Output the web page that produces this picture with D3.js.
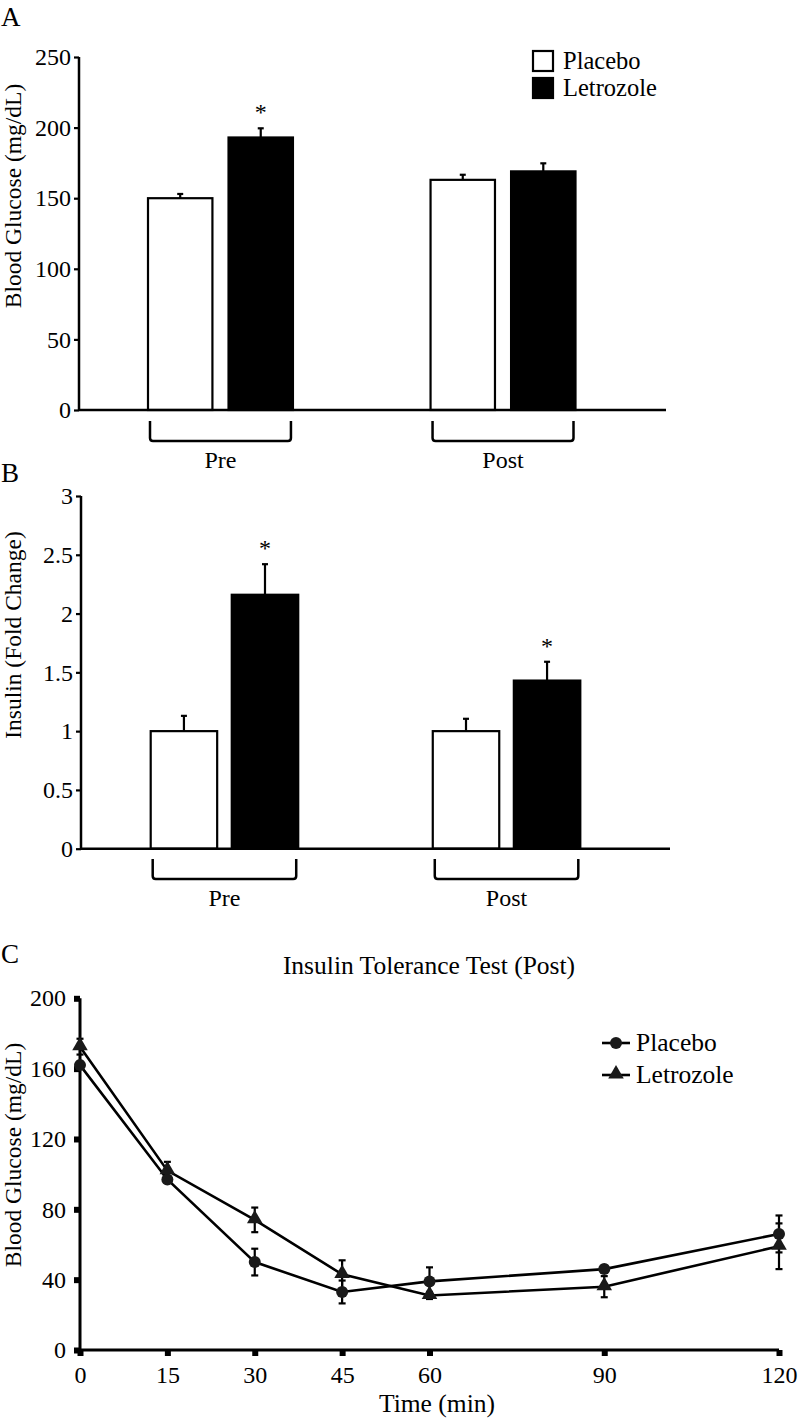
<!DOCTYPE html>
<html>
<head>
<meta charset="utf-8">
<script src="https://cdn.jsdelivr.net/npm/d3@7"></script>
<style>
  html, body { margin: 0; padding: 0; background: #fff; }
  svg { display: block; }
  text { font-family: "Liberation Serif", "Times New Roman", serif; fill: #000; }
</style>
</head>
<body>
<svg id="chart" width="800" height="1418"></svg>
<script>
// ---------- DATA ----------
const groups = ["Pre", "Post"];
const seriesNames = ["Placebo", "Letrozole"];

// Panel A: Blood glucose (mg/dL)
const glucosePlacebo = [150, 163];
const glucosePlaceboErr = [3, 3.6];
const glucoseLetrozole = [193, 169];
const glucoseLetrozoleErr = [6.5, 5.7];
const glucoseSigLetrozole = [true, false];
const glucoseTicks = [0, 50, 100, 150, 200, 250];

// Panel B: Insulin (fold change)
const insulinPlacebo = [1.0, 1.0];
const insulinPlaceboErr = [0.13, 0.105];
const insulinLetrozole = [2.16, 1.43];
const insulinLetrozoleErr = [0.26, 0.16];
const insulinSigLetrozole = [true, true];
const insulinTicks = [0, 0.5, 1, 1.5, 2, 2.5, 3];

// Panel C: Insulin tolerance test (Post)
const ittTimes = [0, 15, 30, 45, 60, 90, 120];
const ittPlacebo = [162, 97, 50, 33, 39, 46, 66];
const ittPlaceboErr = [2, 2, 7.6, 6.5, 8, 2, 10.5];
const ittLetrozole = [172.5, 102, 74, 43, 31, 36, 59];
const ittLetrozoleErr = [4.5, 5, 7, 8, 2, 6, 13];
const ittYTicks = [0, 40, 80, 120, 160, 200];

// ---------- DRAW ----------
const svg = d3.select("#chart");
const FONT = 24;
const BIG = 25.5;

function barPanel(cfg) {
  const g = svg.append("g");
  const y = d3.scaleLinear().domain(cfg.yDomain).range([cfg.y0, cfg.y1]);
  const x0 = d3.scaleBand().domain(groups).range(cfg.groupRange).paddingInner(cfg.groupPad).paddingOuter(0);
  const x1 = d3.scaleBand().domain(seriesNames).range([0, x0.bandwidth()]).paddingInner(cfg.barPad);

  const rows = [];
  groups.forEach((grp, i) => {
    rows.push({grp, s: "Placebo", v: cfg.placebo[i], e: cfg.placeboErr[i], sig: false});
    rows.push({grp, s: "Letrozole", v: cfg.letrozole[i], e: cfg.letrozoleErr[i], sig: cfg.sig[i]});
  });

  // error bars (upward only)
  rows.forEach(d => {
    const cx = x0(d.grp) + x1(d.s) + x1.bandwidth() / 2;
    g.append("line").attr("x1", cx).attr("x2", cx)
      .attr("y1", y(d.v)).attr("y2", y(d.v + d.e))
      .attr("stroke", "#000").attr("stroke-width", 2.2);
    g.append("line").attr("x1", cx - 3).attr("x2", cx + 3)
      .attr("y1", y(d.v + d.e)).attr("y2", y(d.v + d.e))
      .attr("stroke", "#000").attr("stroke-width", 2.2);
    if (d.sig) {
      g.append("text").attr("x", cx).attr("y", y(d.v + d.e) - 8)
        .attr("text-anchor", "middle").attr("font-size", FONT).text("*");
    }
  });

  // bars
  g.selectAll("rect.bar").data(rows).enter().append("rect")
    .attr("class", "bar")
    .attr("x", d => x0(d.grp) + x1(d.s))
    .attr("width", x1.bandwidth())
    .attr("y", d => y(d.v))
    .attr("height", d => y(0) - y(d.v))
    .attr("fill", d => d.s === "Placebo" ? "#fff" : "#000")
    .attr("stroke", "#000").attr("stroke-width", 2.2);

  // y axis
  const yAxis = d3.axisLeft(y).tickValues(cfg.ticks).tickSize(5).tickPadding(3)
    .tickFormat(d3.format(cfg.fmt));
  const ya = g.append("g").attr("transform", `translate(${cfg.axisX},0)`).call(yAxis);
  ya.select(".domain").remove();
  ya.selectAll(".tick line").attr("stroke", "#000").attr("stroke-width", 2.2);
  ya.selectAll(".tick text").attr("font-size", FONT).attr("font-family", '"Liberation Serif", serif');
  g.append("line").attr("x1", cfg.axisX).attr("x2", cfg.axisX)
    .attr("y1", y(cfg.yDomain[0]) + 1).attr("y2", y(cfg.yDomain[1]))
    .attr("stroke", "#000").attr("stroke-width", 2.5);
  // x axis baseline
  g.append("line").attr("x1", cfg.axisX).attr("x2", cfg.axisEnd)
    .attr("y1", y(0)).attr("y2", y(0))
    .attr("stroke", "#000").attr("stroke-width", 2.5);

  // brackets + group labels
  groups.forEach(grp => {
    const xl = x0(grp) + 2, xr = x0(grp) + x0.bandwidth() - 2;
    const t = cfg.bracketTop, b = cfg.bracketTop + 20, r = 3;
    g.append("path")
      .attr("d", `M${xl},${t} L${xl},${b - r} Q${xl},${b} ${xl + r},${b} L${xr - r},${b} Q${xr},${b} ${xr},${b - r} L${xr},${t}`)
      .attr("fill", "none").attr("stroke", "#000").attr("stroke-width", 2.5);
    g.append("text").attr("x", (xl + xr) / 2).attr("y", cfg.labelY)
      .attr("text-anchor", "middle").attr("font-size", FONT).text(grp);
  });

  // y title
  g.append("text")
    .attr("transform", `translate(${cfg.titleX},${cfg.titleY}) rotate(-90)`)
    .attr("text-anchor", "middle").attr("font-size", 23.5).text(cfg.title);
  return {x0, x1, y};
}

// Panel A
barPanel({
  yDomain: [0, 250], y0: 410, y1: 57, ticks: glucoseTicks, fmt: "d",
  groupRange: [148, 575.5], groupPad: 0.487, barPad: 0.2,
  placebo: glucosePlacebo, placeboErr: glucosePlaceboErr,
  letrozole: glucoseLetrozole, letrozoleErr: glucoseLetrozoleErr, sig: glucoseSigLetrozole,
  axisX: 79, axisEnd: 666, bracketTop: 421, labelY: 468,
  title: "Blood Glucose (mg/dL)", titleX: 21, titleY: 196
});

// Panel B
barPanel({
  yDomain: [0, 3], y0: 848.7, y1: 496, ticks: insulinTicks, fmt: "",
  groupRange: [150.7, 580.3], groupPad: 0.477, barPad: 0.18,
  placebo: insulinPlacebo, placeboErr: insulinPlaceboErr,
  letrozole: insulinLetrozole, letrozoleErr: insulinLetrozoleErr, sig: insulinSigLetrozole,
  axisX: 81, axisEnd: 670, bracketTop: 859, labelY: 906,
  title: "Insulin (Fold Change)", titleX: 21, titleY: 635
});

// Panel letters
svg.append("text").attr("x", 1).attr("y", 26).attr("font-size", 27).text("A");
svg.append("text").attr("x", 1).attr("y", 482).attr("font-size", 27).text("B");
svg.append("text").attr("x", 1).attr("y", 963).attr("font-size", 27).text("C");

// Legend A
seriesNames.forEach((s, i) => {
  const yy = 51 + i * 27;
  svg.append("rect").attr("x", 533).attr("y", yy).attr("width", 20).attr("height", 20)
    .attr("fill", s === "Placebo" ? "#fff" : "#000").attr("stroke", "#000").attr("stroke-width", 2.2);
  svg.append("text").attr("x", 563).attr("y", yy + 17.5).attr("font-size", 24.5).text(s);
});

// ---------- Panel C ----------
const gc = svg.append("g");
const xc = d3.scaleLinear().domain([0, 120]).range([80, 779]);
const yc = d3.scaleLinear().domain([0, 200]).range([1350, 998.3]);

const xAxisC = d3.axisBottom(xc).tickValues(ittTimes).tickSize(6).tickPadding(10);
const xac = gc.append("g").attr("transform", "translate(0,1350)").call(xAxisC);
xac.select(".domain").remove();
xac.selectAll(".tick line").attr("stroke", "#000").attr("stroke-width", 6);
xac.selectAll(".tick text").attr("font-size", FONT).attr("font-family", '"Liberation Serif", serif');

const yAxisC = d3.axisLeft(yc).tickValues(ittYTicks).tickSize(6).tickPadding(8);
const yac = gc.append("g").attr("transform", "translate(80,0)").call(yAxisC);
yac.select(".domain").remove();
yac.selectAll(".tick line").attr("stroke", "#000").attr("stroke-width", 6);
yac.selectAll(".tick text").attr("font-size", FONT).attr("font-family", '"Liberation Serif", serif');

gc.append("line").attr("x1", 80).attr("x2", 80).attr("y1", 1351.5).attr("y2", yc(200))
  .attr("stroke", "#000").attr("stroke-width", 3);
gc.append("line").attr("x1", 78.5).attr("x2", 779).attr("y1", 1350).attr("y2", 1350)
  .attr("stroke", "#000").attr("stroke-width", 3);

const lineGen = d3.line().x(d => xc(d.t)).y(d => yc(d.v));
const placeboPts = ittTimes.map((t, i) => ({t, v: ittPlacebo[i], e: ittPlaceboErr[i]}));
const letroPts = ittTimes.map((t, i) => ({t, v: ittLetrozole[i], e: ittLetrozoleErr[i]}));

[placeboPts, letroPts].forEach(pts => {
  gc.append("path").datum(pts).attr("d", lineGen)
    .attr("fill", "none").attr("stroke", "#000").attr("stroke-width", 2.6);
});
[placeboPts, letroPts].forEach(pts => {
  pts.forEach(d => {
    const cx = xc(d.t);
    gc.append("line").attr("x1", cx).attr("x2", cx).attr("y1", yc(d.v - d.e)).attr("y2", yc(d.v + d.e))
      .attr("stroke", "#000").attr("stroke-width", 2.2);
    [d.v - d.e, d.v + d.e].forEach(v => {
      gc.append("line").attr("x1", cx - 3.5).attr("x2", cx + 3.5).attr("y1", yc(v)).attr("y2", yc(v))
        .attr("stroke", "#000").attr("stroke-width", 2.2);
    });
  });
});
const triPath = d3.symbol().type(d3.symbolTriangle).size(105);
gc.selectAll("circle.pl").data(placeboPts).enter().append("circle")
  .attr("cx", d => xc(d.t)).attr("cy", d => yc(d.v)).attr("r", 6).attr("fill", "#1a1a1a");
gc.selectAll("path.lt").data(letroPts).enter().append("path")
  .attr("d", triPath).attr("transform", d => `translate(${xc(d.t)},${yc(d.v) - 1})`).attr("fill", "#1a1a1a");

// Titles C
svg.append("text").attr("x", 429).attr("y", 974).attr("text-anchor", "middle").attr("font-size", BIG)
  .text("Insulin Tolerance Test (Post)");
svg.append("text").attr("x", 437).attr("y", 1412).attr("text-anchor", "middle").attr("font-size", BIG)
  .text("Time (min)");
svg.append("text").attr("transform", "translate(21,1155) rotate(-90)").attr("text-anchor", "middle")
  .attr("font-size", 23.5).text("Blood Glucose (mg/dL)");

// Legend C
seriesNames.forEach((s, i) => {
  const yy = 1043 + i * 32;
  svg.append("line").attr("x1", 602).attr("x2", 630).attr("y1", yy).attr("y2", yy)
    .attr("stroke", "#000").attr("stroke-width", 2.6);
  if (s === "Placebo") {
    svg.append("circle").attr("cx", 616).attr("cy", yy).attr("r", 6).attr("fill", "#1a1a1a");
  } else {
    svg.append("path").attr("d", triPath).attr("transform", `translate(616,${yy - 1})`).attr("fill", "#1a1a1a");
  }
  svg.append("text").attr("x", 636).attr("y", yy + 8).attr("font-size", BIG).text(s);
});
</script>
</body>
</html>
